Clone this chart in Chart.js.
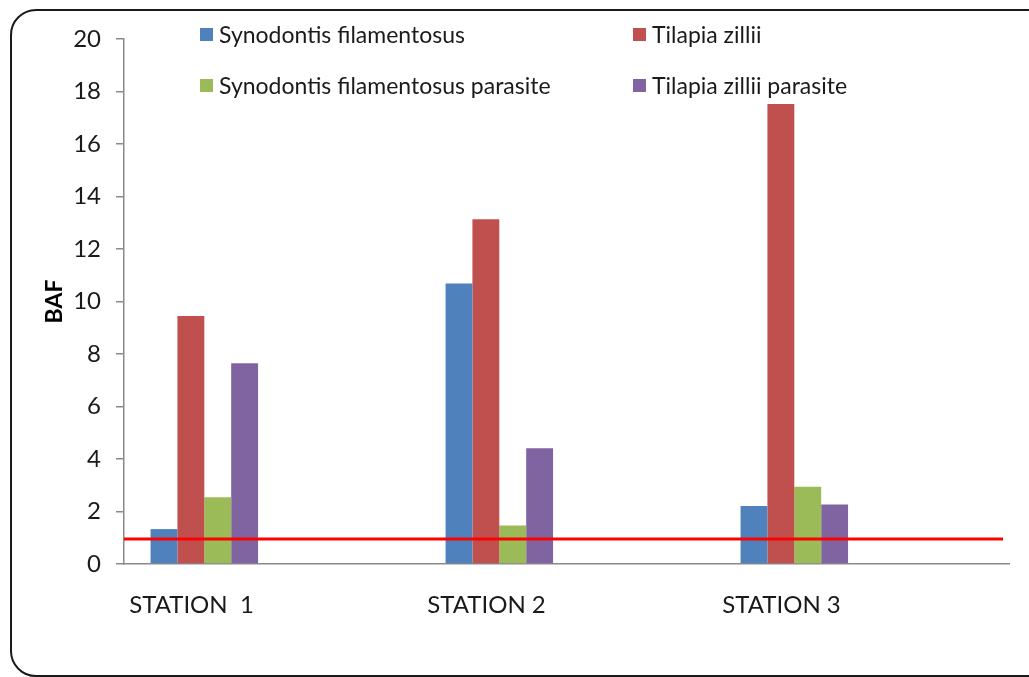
<!DOCTYPE html>
<html lang="en">
<head>
  <meta charset="UTF-8">
  <title>BAF by station</title>
  <script src="https://cdn.jsdelivr.net/npm/chart.js"></script>
  <style>
    html, body {
      margin: 0;
      padding: 0;
      background: #fff;
      overflow: hidden;
    }

    .wrap {
      position: relative;
      width: 1029px;
      height: 677px;
    }

    .frame {
      position: absolute;
      left: 10px;
      top: 9px;
      width: 1040px;
      height: 664px;
      border: 2px solid #1a1a1a;
      border-radius: 26px;
      pointer-events: none;
    }

    canvas {
      position: absolute;
      left: 0;
      top: 0;
    }

    /* legend, two columns like the original */
    .legend-item {
      position: absolute;
      display: flex;
      align-items: center;
      font-family: Lato, sans-serif;
      font-size: 23px;
      color: #1a1a1a;
      white-space: nowrap;
      line-height: 1;
    }

    .legend-item span.box {
      display: inline-block;
      width: 13px;
      height: 13px;
      margin-right: 6px;
    }
  </style>
</head>
<body>
  <div class="wrap">
    <canvas id="chart" width="1029" height="677"></canvas>
    <div class="frame"></div>
    <div id="legend"></div>
  </div>

  <script>
    // data
    var stations = ["STATION  1", "STATION 2", "STATION 3"];
    var seriesNames = [
      "Synodontis filamentosus",
      "Tilapia zillii",
      "Synodontis filamentosus parasite",
      "Tilapia zillii parasite"
    ];
    var synodontis = [1.33, 10.69, 2.21];
    var tilapia = [9.45, 13.13, 17.52];
    var synodontisParasite = [2.54, 1.47, 2.94];
    var tilapiaParasite = [7.65, 4.41, 2.27];
    var yTicks = [0, 2, 4, 6, 8, 10, 12, 14, 16, 18, 20];
    var referenceLine = 0.95;

    var colors = ["#4F81BD", "#C0504D", "#9BBB59", "#8064A2"];
    var values = [synodontis, tilapia, synodontisParasite, tilapiaParasite];

    var datasets = [];
    for (var i = 0; i < values.length; i++) {
      datasets.push({
        label: seriesNames[i],
        data: values[i],
        backgroundColor: colors[i],
        borderWidth: 0
      });
    }
    // empty slots so the four bars sit to the left of each category, as in the original
    for (var k = 0; k < 5; k++) {
      datasets.push({ label: "", data: [null, null, null], backgroundColor: "transparent" });
    }

    // html legend, 2 columns x 2 rows
    var legendPos = [[200, 34], [633, 34], [200, 85], [633, 85]];
    var legendEl = document.getElementById("legend");
    for (var j = 0; j < seriesNames.length; j++) {
      var item = document.createElement("div");
      item.className = "legend-item";
      item.style.left = legendPos[j][0] + "px";
      item.style.top = (legendPos[j][1] - 11) + "px";
      item.style.height = "22px";
      var box = document.createElement("span");
      box.className = "box";
      box.style.background = colors[j];
      item.appendChild(box);
      item.appendChild(document.createTextNode(seriesNames[j]));
      legendEl.appendChild(item);
    }

    var refLinePlugin = {
      id: "refLine",
      afterDatasetsDraw: function (chart) {
        var ctx = chart.ctx;
        var y = chart.scales.y.getPixelForValue(referenceLine);
        ctx.save();
        ctx.strokeStyle = "#FF0000";
        ctx.lineWidth = 3;
        ctx.beginPath();
        ctx.moveTo(chart.chartArea.left, y);
        ctx.lineTo(chart.chartArea.right - 6, y);
        ctx.stroke();
        ctx.restore();
      }
    };

    var ctx = document.getElementById("chart").getContext("2d");
    var chart = new Chart(ctx, {
      type: "bar",
      data: {
        labels: stations,
        datasets: datasets
      },
      options: {
        responsive: false,
        animation: false,
        categoryPercentage: 0.82,
        barPercentage: 1,
        layout: {
          padding: { top: 39, right: 20, left: 0, bottom: 0 }
        },
        plugins: {
          legend: { display: false },
          tooltip: { enabled: false }
        },
        scales: {
          x: {
            grid: { display: false },
            border: { display: true, color: "#8a8a8a", width: 1.5 },
            ticks: {
              font: { family: "Lato", size: 24 },
              color: "#1a1a1a",
              padding: 19,
              labelOffset: -80,
              maxRotation: 0
            },
            afterFit: function (scale) { scale.height = 113; }
          },
          y: {
            min: 0,
            max: 20,
            afterBuildTicks: function (scale) {
              scale.ticks = yTicks.map(function (v) { return { value: v }; });
            },
            grid: {
              display: true,
              drawOnChartArea: false,
              drawTicks: true,
              tickLength: 8,
              color: "#8a8a8a",
              lineWidth: 1.5
            },
            border: { display: true, color: "#8a8a8a", width: 1.5 },
            ticks: {
              font: { family: "Lato", size: 24 },
              color: "#1a1a1a",
              padding: 15
            },
            title: {
              display: true,
              text: "BAF",
              font: { family: "Lato", size: 23, weight: "bold" },
              color: "#000",
              padding: { top: 41, bottom: 0 }
            },
            afterFit: function (scale) { scale.width = 124; }
          }
        }
      },
      plugins: [refLinePlugin]
    });
  </script>
</body>
</html>
